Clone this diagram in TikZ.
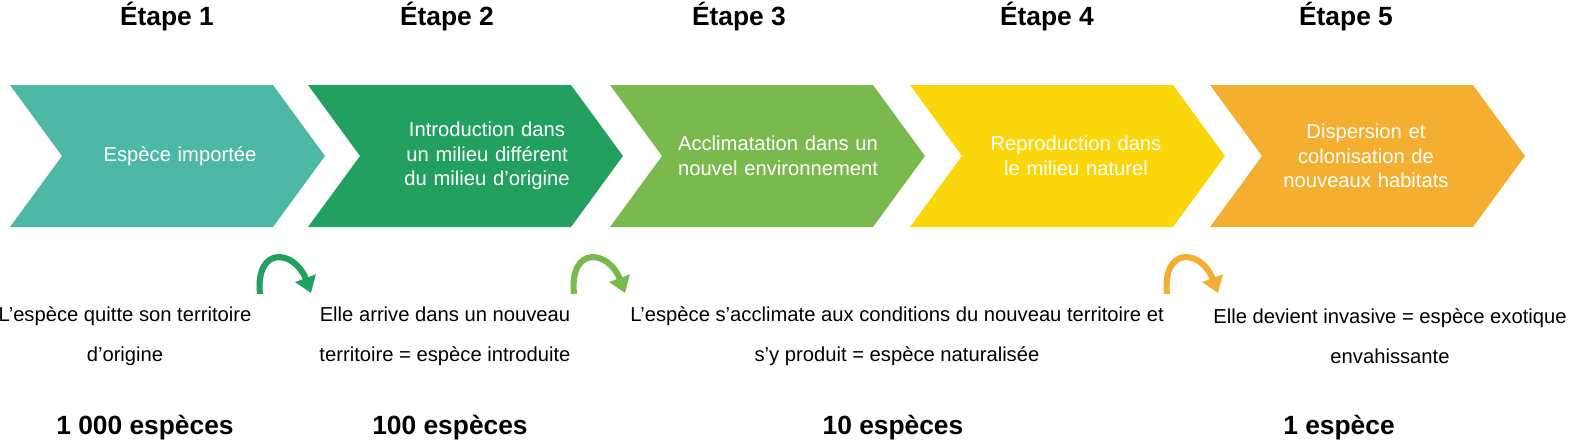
\documentclass[tikz,border=0pt]{standalone}
\usepackage{fontspec}
\setmainfont{Liberation Sans}
\usetikzlibrary{arrows.meta}
\definecolor{cteal}{HTML}{4DB8A5}
\definecolor{cgreen}{HTML}{22A060}
\definecolor{clight}{HTML}{7AB94E}
\definecolor{cyellow}{HTML}{FAD60A}
\definecolor{corange}{HTML}{F5AF30}
\tikzset{
every picture/.style={line width=0.8pt},
%%%%%%%%%% Node styles
title/.style={font=\bfseries\fontsize{15}{18}\selectfont},
chevtext/.style={text=white, align=center, font=\fontsize{11.5}{14}\selectfont, text width=4.2cm},
bottomtext/.style={align=center, font=\fontsize{11.5}{23}\selectfont},
count/.style={font=\bfseries\fontsize{15}{18}\selectfont},
%%%%%%% curved arrows
jump/.style={line width=3.5pt, -{Triangle[length=9pt,width=12pt]}}
}
\begin{document}
\begin{tikzpicture}[x=0.02cm,y=-0.02cm]
\useasboundingbox (0,0) rectangle (1569,443);
%% chevrons
\foreach \x/\c/\i in {10/cteal/1, 308/cgreen/2, 610/clight/3, 910/cyellow/4, 1210/corange/5}{
  \fill[\c] (\x,85) -- (\x+263,85) -- (\x+315,156) -- (\x+263,227) -- (\x,227) -- (\x+52,156) -- cycle;
}
%% titles
\node[title] (t1) at (167,17) {Étape 1};
\node[title] (t2) at (447,17) {Étape 2};
\node[title] (t3) at (739,17) {Étape 3};
\node[title] (t4) at (1047,17) {Étape 4};
\node[title] (t5) at (1346,17) {Étape 5};
%% chevron labels
\node[chevtext] (c1) at (180,156) {Espèce importée};
\node[chevtext] (c2) at (487,156) {Introduction dans un milieu différent du milieu d'origine};
\node[chevtext] (c3) at (778,156) {Acclimatation dans un nouvel environnement};
\node[chevtext] (c4) at (1076,156) {Reproduction dans le milieu naturel};
\node[chevtext] (c5) at (1366,156) {Dispersion et\\colonisation de\\nouveaux habitats};
%% bottom texts
\node[bottomtext] (b1) at (125,336) {L'espèce quitte son territoire\\d'origine};
\node[bottomtext] (b2) at (445,336) {Elle arrive dans un nouveau\\territoire = espèce introduite};
\node[bottomtext] (b3) at (897,336) {L'espèce s'acclimate aux conditions du nouveau territoire et\\s'y produit = espèce naturalisée};
\node[bottomtext] (b4) at (1390,336) {Elle devient invasive = espèce exotique\\envahissante};
%% counts
\node[count] (n1) at (145,428) {1 000 espèces};
\node[count] (n2) at (450,428) {100 espèces};
\node[count] (n3) at (893,428) {10 espèces};
\node[count] (n4) at (1339,428) {1 espèce};
%% curved arrows
\coordinate (a1s) at (260,294); \coordinate (a1e) at (311,293);
\coordinate (a2s) at (574,294); \coordinate (a2e) at (625,293);
\coordinate (a3s) at (1167,294); \coordinate (a3e) at (1218,293);
\draw[jump, cgreen] (a1s) .. controls (255,245) and (295,250) .. (a1e);
\draw[jump, clight] (a2s) .. controls (569,245) and (609,250) .. (a2e);
\draw[jump, corange] (a3s) .. controls (1162,245) and (1202,250) .. (a3e);
\end{tikzpicture}
\end{document}
